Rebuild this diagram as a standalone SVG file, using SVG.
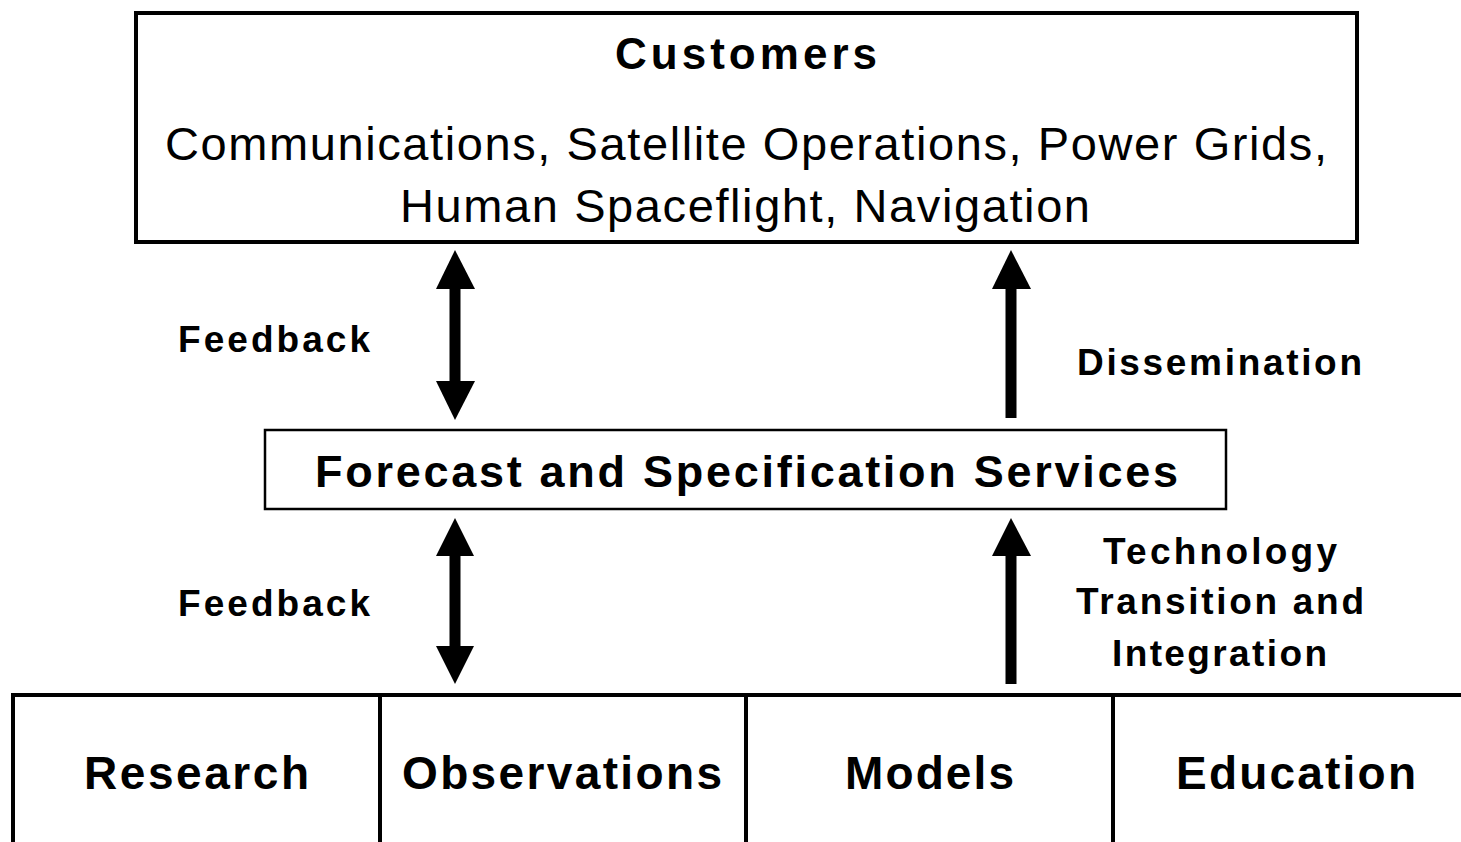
<svg xmlns="http://www.w3.org/2000/svg" width="1461" height="842" viewBox="0 0 1461 842">
<style>
.box{fill:#fff;stroke:#000;stroke-width:4}
.thin{fill:#fff;stroke:#000;stroke-width:2.5}
.b{font-family:"Liberation Sans",Arial,sans-serif;font-weight:bold;fill:#000;text-anchor:middle}
.r{font-family:"Liberation Sans",Arial,sans-serif;fill:#000;text-anchor:middle}
.lbl{font-size:37px}
.shaft{stroke:#000;stroke-width:11;fill:none}
.head{fill:#000}
</style>
<rect width="1461" height="842" fill="#fff"/>
<g id="customers">
<rect class="box" x="136" y="13" width="1221" height="229"/>
<text class="b" x="746" y="69" font-size="44" textLength="262">Customers</text>
<text class="r" x="746" y="160" font-size="47" textLength="1162">Communications, Satellite Operations, Power Grids,</text>
<text class="r" x="745" y="222" font-size="47" textLength="690">Human Spaceflight, Navigation</text>
</g>
<g id="forecast">
<rect class="thin" x="265" y="430" width="961" height="79"/>
<text class="b" x="746.5" y="487" font-size="45" textLength="863">Forecast and Specification Services</text>
</g>
<g id="research">
<path class="box" d="M13,842 V695 H380 V842"/>
<text class="b" x="196.5" y="789" font-size="46" textLength="225">Research</text>
</g>
<g id="observations">
<path class="box" d="M380,842 V695 H746 V842"/>
<text class="b" x="562" y="789" font-size="46" textLength="320">Observations</text>
</g>
<g id="models">
<path class="box" d="M746,842 V695 H1113 V842"/>
<text class="b" x="929.5" y="789" font-size="46" textLength="169">Models</text>
</g>
<g id="education">
<path class="box" d="M1113,842 V695 H1465"/>
<text class="b" x="1296" y="789" font-size="46" textLength="240">Education</text>
</g>
<g id="connectors">
<line class="shaft" x1="455" y1="285" x2="455" y2="385"/>
<polygon class="head" points="455,250 475,289 436,289"/>
<polygon class="head" points="455,420 475,381 436,381"/>
<line class="shaft" x1="1011" y1="285" x2="1011" y2="418"/>
<polygon class="head" points="1011,250 1031,289 992,289"/>
<line class="shaft" x1="455" y1="552" x2="455" y2="650"/>
<polygon class="head" points="455,518 474,556 436,556"/>
<polygon class="head" points="455,684 474,646 436,646"/>
<line class="shaft" x1="1011" y1="552" x2="1011" y2="684"/>
<polygon class="head" points="1011,518 1031,556 992,556"/>
</g>
<g id="labels">
<text class="b lbl" x="274" y="352" textLength="192">Feedback</text>
<text class="b lbl" x="274" y="616" textLength="192">Feedback</text>
<text class="b lbl" x="1219.5" y="375" textLength="285">Dissemination</text>
<text class="b lbl" x="1220" y="564" textLength="234">Technology</text>
<text class="b lbl" x="1220" y="614" textLength="288">Transition and</text>
<text class="b lbl" x="1219.5" y="666" textLength="215">Integration</text>
</g>
</svg>
